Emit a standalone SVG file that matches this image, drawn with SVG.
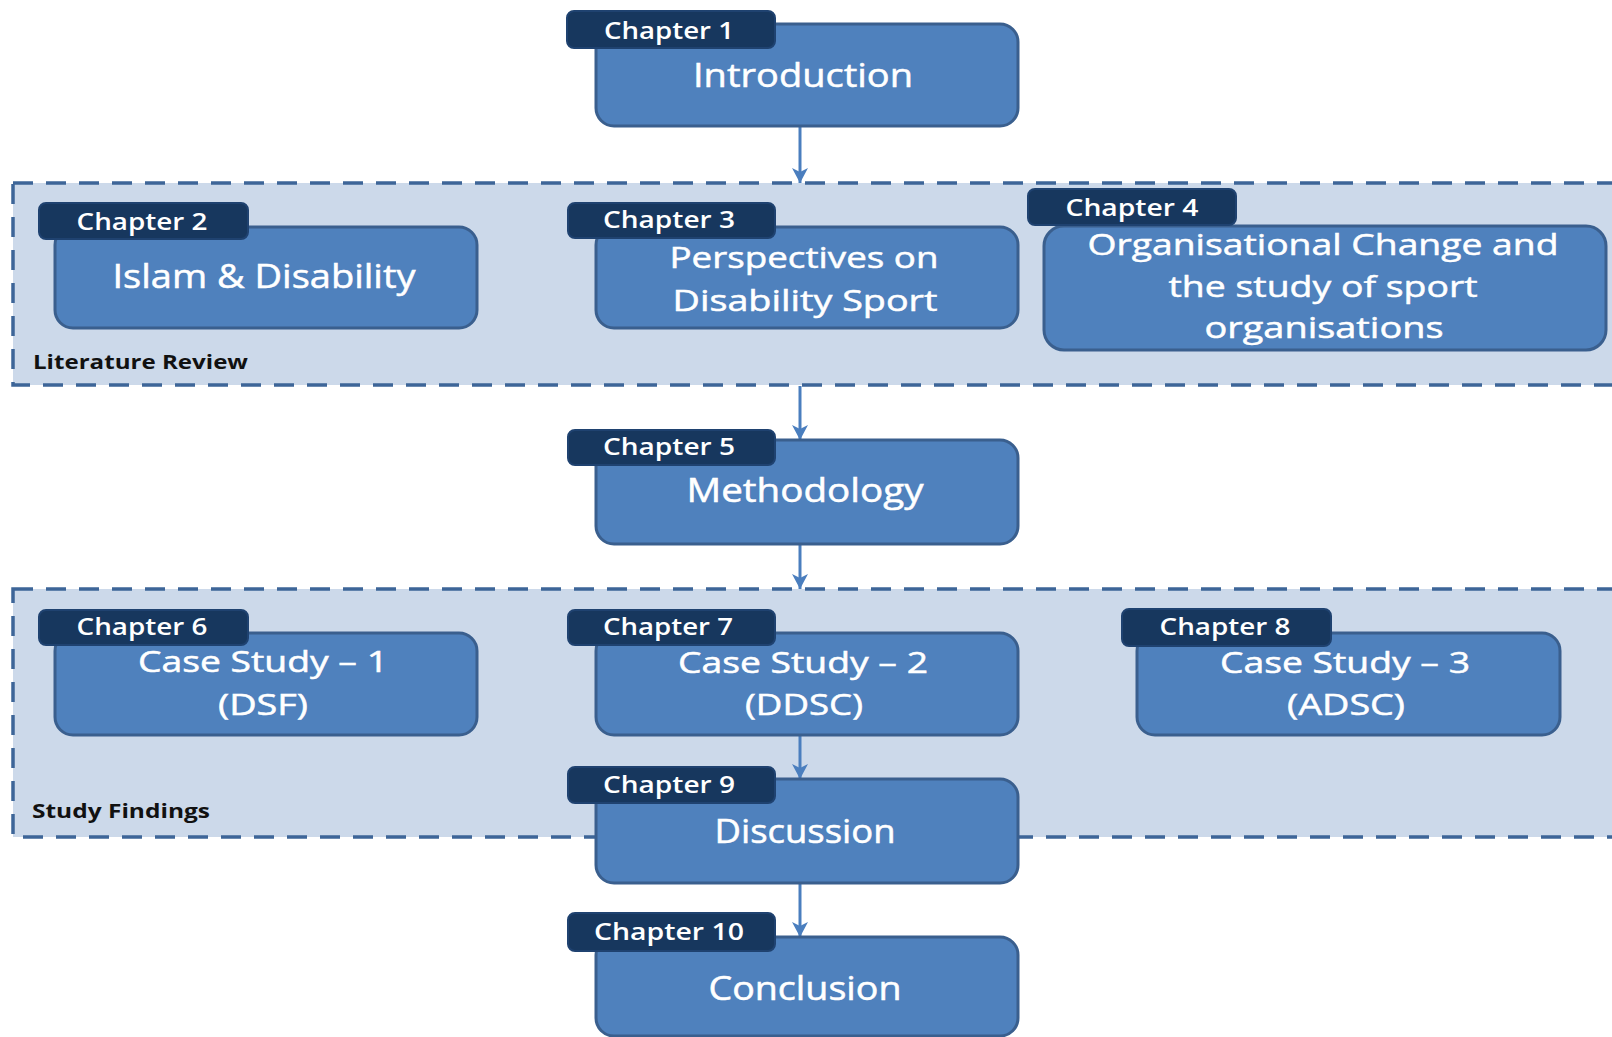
<svg xmlns="http://www.w3.org/2000/svg" width="1612" height="1037" viewBox="0 0 1612 1037">
  <defs>
    <marker id="arrowhead" markerUnits="userSpaceOnUse" markerWidth="16" markerHeight="16" viewBox="0 0 16 16" refX="15" refY="8" orient="auto">
      <path d="M0,0 L15,8 L0,16 L4,8 Z" fill="#4a7ebe"/>
    </marker>
  </defs>
  <style>
    .region { fill: #ccd9ea; stroke: #3d6598; stroke-width: 3.5; stroke-dasharray: 20 13; }
    .region-label { font-family: "Open Sans", "Liberation Sans", sans-serif; font-weight: 700; font-size: 19px; fill: #111; }
    .box { fill: #4f81bd; stroke: #3a5f8e; stroke-width: 3; }
    .tag { fill: #17375e; stroke: #1f4270; stroke-width: 2; }
    .tag-text { font-family: "Open Sans", "Liberation Sans", sans-serif; font-weight: 600; font-size: 24px; fill: #fff; text-anchor: middle; }
    .title { font-family: "Open Sans", "Liberation Sans", sans-serif; font-size: 32px; fill: #fff; stroke: #fff; stroke-width: 0.5; text-anchor: middle; }
    .title-sm { font-family: "Open Sans", "Liberation Sans", sans-serif; font-size: 29px; fill: #fff; stroke: #fff; stroke-width: 0.5; text-anchor: middle; }
    .connector { stroke: #4a7ebe; stroke-width: 3; fill: none; marker-end: url(#arrowhead); }
  </style>

  <rect width="1612" height="1037" fill="#ffffff"/>

  <!-- grouping panels -->
  <g id="literature-review">
    <rect class="region" x="13" y="183" width="1640" height="202"/>
    <text class="region-label" x="33" y="369" textLength="215" lengthAdjust="spacingAndGlyphs">Literature Review</text>
  </g>
  <g id="study-findings">
    <rect class="region" x="13" y="589" width="1640" height="248"/>
    <text class="region-label" x="32" y="818" textLength="178" lengthAdjust="spacingAndGlyphs">Study Findings</text>
  </g>

  <!-- flow arrows -->
  <g id="connectors">
    <line class="connector" x1="800" y1="126" x2="800" y2="183"/>
    <line class="connector" x1="800" y1="386" x2="800" y2="440"/>
    <line class="connector" x1="800" y1="545" x2="800" y2="589"/>
    <line class="connector" x1="800" y1="736" x2="800" y2="779"/>
    <line class="connector" x1="800" y1="884" x2="800" y2="937"/>
  </g>

  <g id="ch1">
    <rect class="box" x="596" y="24" width="422" height="102" rx="18"/>
    <rect class="tag" x="567" y="11" width="208" height="37" rx="7"/>
    <text class="tag-text" x="669" y="39" textLength="130" lengthAdjust="spacingAndGlyphs">Chapter 1</text>
    <text class="title" x="803" y="87" textLength="220" lengthAdjust="spacingAndGlyphs">Introduction</text>
  </g>

  <g id="ch2">
    <rect class="box" x="55" y="227" width="422" height="101" rx="18"/>
    <rect class="tag" x="39" y="203" width="209" height="36" rx="7"/>
    <text class="tag-text" x="142" y="230" textLength="131" lengthAdjust="spacingAndGlyphs">Chapter 2</text>
    <text class="title" x="264" y="288" textLength="303" lengthAdjust="spacingAndGlyphs">Islam &amp; Disability</text>
  </g>

  <g id="ch3">
    <rect class="box" x="596" y="227" width="422" height="101" rx="18"/>
    <rect class="tag" x="568" y="203" width="207" height="35" rx="7"/>
    <text class="tag-text" x="669" y="228" textLength="132" lengthAdjust="spacingAndGlyphs">Chapter 3</text>
    <text class="title-sm" x="804" y="268" textLength="269" lengthAdjust="spacingAndGlyphs">Perspectives on</text>
    <text class="title-sm" x="805" y="311" textLength="265" lengthAdjust="spacingAndGlyphs">Disability Sport</text>
  </g>

  <g id="ch4">
    <rect class="box" x="1044" y="226" width="562" height="124" rx="20"/>
    <rect class="tag" x="1028" y="189" width="208" height="36" rx="7"/>
    <text class="tag-text" x="1132" y="216" textLength="133" lengthAdjust="spacingAndGlyphs">Chapter 4</text>
    <text class="title-sm" x="1323" y="255" textLength="471" lengthAdjust="spacingAndGlyphs">Organisational Change and</text>
    <text class="title-sm" x="1323" y="297" textLength="309" lengthAdjust="spacingAndGlyphs">the study of sport</text>
    <text class="title-sm" x="1324" y="338" textLength="239" lengthAdjust="spacingAndGlyphs">organisations</text>
  </g>

  <g id="ch5">
    <rect class="box" x="596" y="440" width="422" height="104" rx="18"/>
    <rect class="tag" x="568" y="430" width="207" height="35" rx="7"/>
    <text class="tag-text" x="669" y="455" textLength="132" lengthAdjust="spacingAndGlyphs">Chapter 5</text>
    <text class="title" x="805" y="502" textLength="237" lengthAdjust="spacingAndGlyphs">Methodology</text>
  </g>

  <g id="ch6">
    <rect class="box" x="55" y="633" width="422" height="102" rx="18"/>
    <rect class="tag" x="39" y="610" width="209" height="35" rx="7"/>
    <text class="tag-text" x="142" y="635" textLength="131" lengthAdjust="spacingAndGlyphs">Chapter 6</text>
    <text class="title-sm" x="263" y="672" textLength="250" lengthAdjust="spacingAndGlyphs">Case Study – 1</text>
    <text class="title-sm" x="263" y="715" textLength="90" lengthAdjust="spacingAndGlyphs">(DSF)</text>
  </g>

  <g id="ch7">
    <rect class="box" x="596" y="633" width="422" height="102" rx="18"/>
    <rect class="tag" x="568" y="610" width="207" height="35" rx="7"/>
    <text class="tag-text" x="668" y="635" textLength="130" lengthAdjust="spacingAndGlyphs">Chapter 7</text>
    <text class="title-sm" x="803" y="673" textLength="250" lengthAdjust="spacingAndGlyphs">Case Study – 2</text>
    <text class="title-sm" x="804" y="715" textLength="118" lengthAdjust="spacingAndGlyphs">(DDSC)</text>
  </g>

  <g id="ch8">
    <rect class="box" x="1137" y="633" width="423" height="102" rx="18"/>
    <rect class="tag" x="1122" y="609" width="209" height="37" rx="7"/>
    <text class="tag-text" x="1225" y="635" textLength="131" lengthAdjust="spacingAndGlyphs">Chapter 8</text>
    <text class="title-sm" x="1345" y="673" textLength="250" lengthAdjust="spacingAndGlyphs">Case Study – 3</text>
    <text class="title-sm" x="1346" y="715" textLength="118" lengthAdjust="spacingAndGlyphs">(ADSC)</text>
  </g>

  <g id="ch9">
    <rect class="box" x="596" y="779" width="422" height="104" rx="18"/>
    <rect class="tag" x="568" y="767" width="207" height="36" rx="7"/>
    <text class="tag-text" x="669" y="793" textLength="132" lengthAdjust="spacingAndGlyphs">Chapter 9</text>
    <text class="title" x="805" y="843" textLength="181" lengthAdjust="spacingAndGlyphs">Discussion</text>
  </g>

  <g id="ch10">
    <rect class="box" x="596" y="937" width="422" height="99" rx="18"/>
    <rect class="tag" x="568" y="913" width="207" height="38" rx="7"/>
    <text class="tag-text" x="669" y="940" textLength="150" lengthAdjust="spacingAndGlyphs">Chapter 10</text>
    <text class="title" x="805" y="1000" textLength="193" lengthAdjust="spacingAndGlyphs">Conclusion</text>
  </g>
</svg>
